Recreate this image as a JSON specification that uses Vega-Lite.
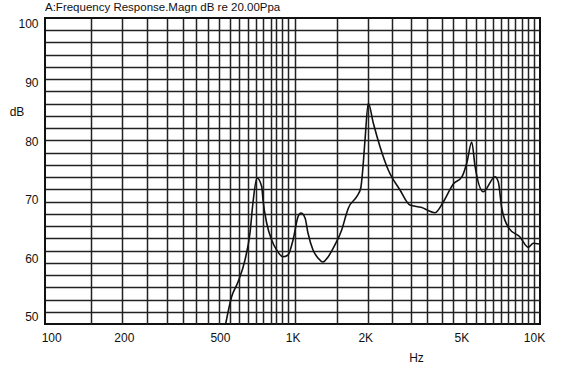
{
  "$schema": "https://vega.github.io/schema/vega-lite/v6.json",
  "autosize": {"type": "none"},
  "width": 495,
  "height": 306,
  "padding": {"left": 45, "top": 18, "right": 37, "bottom": 47},
  "background": "white",
  "title": {
    "text": "A:Frequency Response.Magn dB re 20.00Ppa",
    "anchor": "start",
    "frame": "group",
    "font": "Liberation Sans",
    "fontSize": 11.5,
    "fontWeight": "normal",
    "color": "#111",
    "offset": 4
  },
  "config": {
    "view": {"stroke": "#111", "strokeWidth": 2},
    "axis": {
      "labelFont": "Liberation Sans",
      "labelFontSize": 12,
      "labelColor": "#111",
      "titleFont": "Liberation Sans",
      "titleFontSize": 12,
      "titleFontWeight": "normal",
      "titleColor": "#111"
    }
  },
  "data": {
    "values": [
      {"freq": 528, "db": 48.8},
      {"freq": 559, "db": 53.46},
      {"freq": 594, "db": 55.96},
      {"freq": 635, "db": 59.72},
      {"freq": 666, "db": 64.32},
      {"freq": 685, "db": 69.44},
      {"freq": 712, "db": 73.71},
      {"freq": 745, "db": 72.22},
      {"freq": 754, "db": 69.95},
      {"freq": 781, "db": 66.03},
      {"freq": 819, "db": 63.13},
      {"freq": 859, "db": 61.42},
      {"freq": 912, "db": 60.28},
      {"freq": 957, "db": 60.57},
      {"freq": 1004, "db": 63.13},
      {"freq": 1053, "db": 67.1},
      {"freq": 1083, "db": 67.73},
      {"freq": 1126, "db": 66.88},
      {"freq": 1158, "db": 64.32},
      {"freq": 1215, "db": 61.42},
      {"freq": 1274, "db": 60.06},
      {"freq": 1336, "db": 59.38},
      {"freq": 1402, "db": 60.23},
      {"freq": 1484, "db": 61.99},
      {"freq": 1597, "db": 64.83},
      {"freq": 1675, "db": 67.73},
      {"freq": 1701, "db": 68.54},
      {"freq": 1843, "db": 70.52},
      {"freq": 1915, "db": 71.95},
      {"freq": 1952, "db": 75.07},
      {"freq": 1995, "db": 80.19},
      {"freq": 2059, "db": 86.45},
      {"freq": 2160, "db": 83.04},
      {"freq": 2302, "db": 79.05},
      {"freq": 2491, "db": 75.07},
      {"freq": 2785, "db": 71.66},
      {"freq": 3064, "db": 69.1},
      {"freq": 3403, "db": 68.71},
      {"freq": 3890, "db": 67.79},
      {"freq": 4209, "db": 69.61},
      {"freq": 4632, "db": 72.68},
      {"freq": 5032, "db": 73.93},
      {"freq": 5279, "db": 76.44},
      {"freq": 5520, "db": 79.85},
      {"freq": 5697, "db": 75.75},
      {"freq": 6166, "db": 71.37},
      {"freq": 6895, "db": 73.93},
      {"freq": 7115, "db": 73.02},
      {"freq": 7350, "db": 68.59},
      {"freq": 7878, "db": 65.12},
      {"freq": 8750, "db": 63.64},
      {"freq": 9471, "db": 61.88},
      {"freq": 9934, "db": 62.57},
      {"freq": 10488, "db": 62.45}
    ]
  },
  "layer": [
    {
      "mark": {"type": "line", "color": "#111", "strokeWidth": 1.6, "interpolate": "monotone", "clip": true},
      "encoding": {
        "x": {
          "field": "freq", "type": "quantitative",
          "scale": {"type": "log", "domain": [94.26, 10588], "nice": false},
          "axis": {
            "orient": "bottom", "grid": true, "labels": false, "ticks": false, "domain": false, "title": null,
            "gridColor": "#222", "gridWidth": 1.5,
            "values": [145.8, 196, 248.7, 301, 351.6, 398, 446, 496, 550, 600, 653, 705, 754, 814, 854, 904, 957, 1023, 1527, 2047, 2581, 3094, 3604, 4157, 4618, 5228, 5752, 6268, 6764, 7301, 7803, 8342, 8918, 9444, 10000]
          }
        },
        "y": {
          "field": "db", "type": "quantitative",
          "scale": {"domain": [48.8, 101], "nice": false, "zero": false},
          "axis": {
            "orient": "left", "grid": true, "labels": false, "ticks": false, "domain": false, "title": null,
            "gridColor": "#222", "gridWidth": 1.5,
            "values": [50.888, 52.976, 55.064, 57.152, 59.24, 61.328, 63.416, 65.504, 67.592, 69.68, 71.768, 73.856, 75.944, 78.032, 80.12, 82.208, 84.296, 86.384, 88.472, 90.56, 92.648, 94.736, 96.824, 98.912]
          }
        }
      }
    },
    {
      "mark": {"type": "point", "opacity": 0},
      "encoding": {
        "x": {
          "field": "freq", "type": "quantitative",
          "axis": {
            "orient": "bottom", "grid": false, "ticks": false, "domain": false,
            "values": [100, 200, 500, 1000, 2000, 5000, 10000],
            "labelExpr": "datum.value >= 1000 ? (datum.value / 1000) + 'K' : datum.value",
            "labelPadding": 8, "labelFlush": false, "labelOverlap": false,
            "title": "Hz", "titleX": 371, "titleY": 33, "titleAlign": "center", "titleBaseline": "middle"
          }
        },
        "y": {
          "field": "db", "type": "quantitative",
          "axis": {
            "orient": "left", "grid": false, "ticks": false, "domain": false,
            "values": [50, 60, 70, 80, 90, 100],
            "labelPadding": 7, "labelFlush": false, "labelOverlap": false,
            "title": "dB", "titleAngle": 0, "titleX": -28.5, "titleY": 93, "titleAlign": "center", "titleBaseline": "middle"
          }
        }
      }
    }
  ],
  "resolve": {"axis": {"x": "independent", "y": "independent"}}
}
